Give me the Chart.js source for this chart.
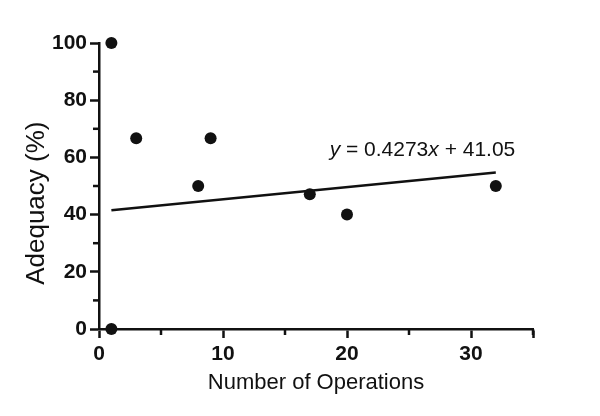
<!DOCTYPE html>
<html>
<head>
<meta charset="utf-8">
<script src="https://cdn.jsdelivr.net/npm/chart.js@4.4.0/dist/chart.umd.min.js"></script>
<style>
  html, body { margin: 0; padding: 0; background: #fff; }
  #wrap { width: 600px; height: 416px; }
</style>
</head>
<body>
<div id="wrap"><canvas id="grafica" width="600" height="416"></canvas></div>
<script>
// Datos
const operaciones = [1, 1, 3, 8, 9, 17, 20, 32];
const adecuacion = [100, 0, 66.7, 50, 66.7, 47.1, 40, 50];

// Recta de regresión y = 0.4273x + 41.05 (extremos)
const rectaX = [1, 32];
const rectaY = [41.48, 54.72];
const etiquetaRecta = ['y', ' = 0.4273', 'x', ' + 41.05'];
const tituloY = 'Adequacy (%)';

const ticksMenoresX = [5, 15, 25, 35];
const ticksMenoresY = [10, 30, 50, 70, 90];

const negro = '#111';
const fuente = "'Liberation Sans', Arial, sans-serif";

// Ticks menores, título del eje Y y texto de la ecuación
const extras = {
    id: 'extras',
    afterDraw(chart) {
        const c = chart.ctx;
        const sx = chart.scales.x;
        const sy = chart.scales.y;
        c.save();
        c.strokeStyle = negro;
        c.lineWidth = 2.5;
        ticksMenoresX.forEach(v => {
            const px = sx.getPixelForValue(v);
            c.beginPath();
            c.moveTo(px, sy.bottom);
            c.lineTo(px, sy.bottom + 6);
            c.stroke();
        });
        ticksMenoresY.forEach(v => {
            const py = sy.getPixelForValue(v);
            c.beginPath();
            c.moveTo(sx.left, py);
            c.lineTo(sx.left - 6, py);
            c.stroke();
        });

        // título eje Y (algo desplazado hacia abajo, como en el original)
        c.save();
        c.translate(37, sy.getPixelForValue(44));
        c.rotate(-Math.PI / 2);
        c.font = '26px ' + fuente;
        c.fillStyle = negro;
        c.textAlign = 'center';
        c.textBaseline = 'middle';
        c.fillText(tituloY, 0, 0);
        c.restore();

        // ecuación
        let px = sx.getPixelForValue(18.6);
        const py = sy.getPixelForValue(60.4);
        c.fillStyle = negro;
        c.textBaseline = 'alphabetic';
        etiquetaRecta.forEach((t, i) => {
            c.font = (i % 2 === 0 ? 'italic ' : '') + '21px ' + fuente;
            c.fillText(t, px, py);
            px += c.measureText(t).width;
        });
        c.restore();
    }
};

const ctx = document.getElementById('grafica').getContext('2d');

new Chart(ctx, {
    type: 'scatter',
    data: {
        datasets: [
            {
                data: operaciones.map((x, i) => ({ x: x, y: adecuacion[i] })),
                pointRadius: 6,
                pointBackgroundColor: negro,
                pointBorderWidth: 0,
                clip: false
            },
            {
                type: 'line',
                data: rectaX.map((x, i) => ({ x: x, y: rectaY[i] })),
                borderColor: negro,
                borderWidth: 2.5,
                pointRadius: 0,
                fill: false,
                clip: false
            }
        ]
    },
    options: {
        responsive: false,
        animation: false,
        devicePixelRatio: 1,
        layout: { padding: { left: 0, top: 43, right: 67, bottom: 0 } },
        plugins: { legend: { display: false }, tooltip: { enabled: false } },
        scales: {
            x: {
                type: 'linear',
                min: 0,
                max: 35,
                afterFit: s => { s.height = 87; },
                border: { color: negro, width: 2.5 },
                grid: { drawOnChartArea: false, tickLength: 9, tickWidth: 2.5, tickColor: negro },
                ticks: {
                    stepSize: 10,
                    padding: 4,
                    color: negro,
                    font: { family: fuente, size: 21, weight: 'bold' },
                    callback: v => (v % 10 === 0 ? v : '')
                },
                title: {
                    display: true,
                    text: 'Number of Operations',
                    color: negro,
                    font: { family: fuente, size: 22 },
                    padding: { top: 0, bottom: 20 }
                }
            },
            y: {
                type: 'linear',
                min: 0,
                max: 100,
                afterFit: s => { s.width = 99; },
                border: { color: negro, width: 2.5 },
                grid: { drawOnChartArea: false, tickLength: 9, tickWidth: 2.5, tickColor: negro },
                ticks: {
                    stepSize: 20,
                    padding: 3,
                    color: negro,
                    font: { family: fuente, size: 21, weight: 'bold' }
                }
            }
        }
    },
    plugins: [extras]
});
</script>
</body>
</html>
